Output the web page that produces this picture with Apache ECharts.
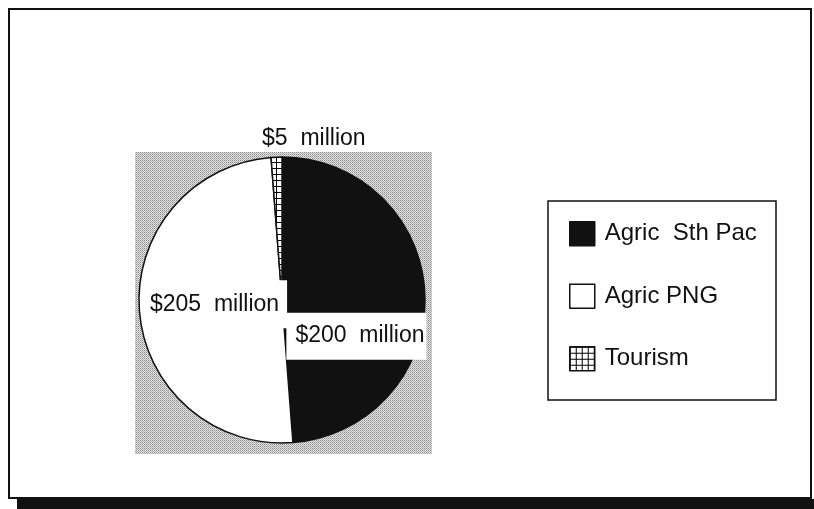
<!DOCTYPE html>
<html><head><meta charset="utf-8">
<script src="https://cdn.jsdelivr.net/npm/echarts@6/dist/echarts.min.js"></script>
<style>html,body{margin:0;padding:0;background:#fff}#c{width:814px;height:509px}</style>
</head><body><div id="c"></div>
<script>
// ---- data ----
const categories = ['Agric  Sth Pac', 'Agric PNG', 'Tourism'];
const values = [200, 205, 5];
const unitPrefix = '$';
const unitSuffix = '  million';

// ---- patterns ----
function makeCanvas(w, h, draw) {
  const c = document.createElement('canvas');
  c.width = w; c.height = h;
  draw(c.getContext('2d'));
  return c;
}
const stipple = makeCanvas(2, 2, g => {
  g.fillStyle = '#e6e6e6'; g.fillRect(0, 0, 2, 2);
  g.fillStyle = '#888888'; g.fillRect(0, 0, 1, 1);
  g.fillStyle = '#b0b0b0'; g.fillRect(1, 1, 1, 1);
});
const gridPat = makeCanvas(6, 6, g => {
  g.fillStyle = '#fff'; g.fillRect(0, 0, 6, 6);
  g.fillStyle = '#000'; g.fillRect(0, 0, 6, 1); g.fillRect(0, 0, 1, 6);
});

const fills = ['#111111', '#ffffff', { image: gridPat, repeat: 'repeat' }];
const labelBoxes = [
  { backgroundColor: '#fff', padding: [12, 2, 11, 9] },
  { backgroundColor: '#fff', padding: [12, 8, 12, 4] },
  { padding: 0 }
];
const labelOffsets = [[0, 39], [8.8, -1.5], [34.7, -86.5]];

const FONT = '"Liberation Sans", Arial, Helvetica, sans-serif';

const chart = echarts.init(document.getElementById('c'), null, { renderer: 'canvas' });
chart.setOption({
  animation: false,
  backgroundColor: '#fff',
  graphic: [
    { type: 'rect', z: 0, silent: true,
      shape: { x: 9, y: 9, width: 802, height: 489 },
      style: { fill: '#fff', stroke: '#111', lineWidth: 2 } },
    { type: 'rect', z: 0, silent: true,
      shape: { x: 17, y: 499, width: 797, height: 10 },
      style: { fill: '#111' } },
    { type: 'rect', z: 1, silent: true,
      shape: { x: 135, y: 152, width: 297, height: 302 },
      style: { fill: { image: stipple, repeat: 'repeat' } } },
    { type: 'rect', z: 1, silent: true,
      shape: { x: 548, y: 201, width: 228, height: 199 },
      style: { fill: '#fff', stroke: '#111', lineWidth: 1.5 } }
  ],
  legend: {
    orient: 'vertical',
    left: 569, top: 221,
    padding: 0,
    itemWidth: 25, itemHeight: 24, itemGap: 37,
    icon: 'rect',
    selectedMode: false,
    itemStyle: { borderColor: '#111', borderWidth: 1.5 },
    textStyle: { fontFamily: FONT, fontSize: 24, color: '#111', padding: [0, 0, 0, 5] },
    data: categories
  },
  series: [{
    type: 'pie',
    center: [282, 300],
    radius: [0, 143],
    startAngle: 90,
    clockwise: true,
    silent: true,
    emphasis: { disabled: true },
    itemStyle: { borderColor: '#111', borderWidth: 1.5 },
    label: {
      show: true,
      position: 'inside',
      fontFamily: FONT,
      fontSize: 23,
      lineHeight: 24,
      color: '#111',
      formatter: p => unitPrefix + p.value + unitSuffix
    },
    labelLine: { show: false },
    labelLayout: p => ({ dx: labelOffsets[p.dataIndex][0], dy: labelOffsets[p.dataIndex][1] }),
    data: categories.map((name, i) => ({
      name: name,
      value: values[i],
      itemStyle: { color: fills[i] },
      label: labelBoxes[i]
    }))
  }]
});
</script>
</body></html>
